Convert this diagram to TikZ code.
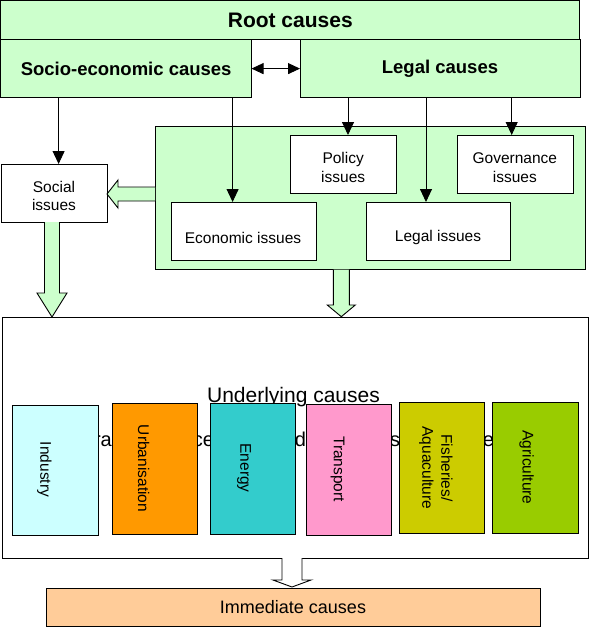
\documentclass[tikz,border=0pt]{standalone}
\usepackage{fontspec}
\setmainfont{Liberation Sans}
\usetikzlibrary{arrows.meta,calc}
\definecolor{lgreen}{HTML}{CCFFCC}
\definecolor{cind}{HTML}{CCFFFF}
\definecolor{curb}{HTML}{FF9900}
\definecolor{cene}{HTML}{33CCCC}
\definecolor{ctra}{HTML}{FF99CC}
\definecolor{cfis}{HTML}{CCCC00}
\definecolor{cagr}{HTML}{99CC00}
\definecolor{cimm}{HTML}{FFCC99}
\tikzset{
  bx/.style={draw=black, line width=0.9pt, inner sep=0pt, outer sep=0pt, anchor=north west},
  gbx/.style={bx, fill=lgreen},
  wbx/.style={bx, fill=white},
  boldlbl/.style={font=\fontsize{18.5}{22}\selectfont\bfseries, inner sep=0pt},
  lbl/.style={font=\fontsize{15.5}{18.5}\selectfont, align=center, inner sep=0pt},
  vlbl/.style={font=\fontsize{15.5}{19}\selectfont, align=center, inner sep=0pt, rotate=-90},
  frag/.style={font=\fontsize{20}{24}\selectfont, inner sep=0pt, anchor=base},
  arr/.style={line width=0.9pt, -{Triangle[length=13pt,width=12pt]}},
  darr/.style={line width=0.9pt, {Triangle[length=12pt,width=11pt]}-{Triangle[length=12pt,width=11pt]}},
  blockarr/.style={draw=black, line width=0.9pt, fill=lgreen, line join=miter},
}
\begin{document}
\begin{tikzpicture}[x=1pt,y=-1pt]
\useasboundingbox (0,0) rectangle (590,630);

% top boxes
\node[gbx, minimum width=579pt, minimum height=38.7pt] (root) at (0.8,0.8) {};
\node[boldlbl, font=\fontsize{21}{24}\selectfont\bfseries] (roott) at (root.center) {Root causes};
\node[gbx, minimum width=250.7pt, minimum height=58.2pt] (socio) at (0.8,39.5) {};
\node[boldlbl] (sociot) at (socio.center) {Socio-economic causes};
\node[gbx, minimum width=280pt, minimum height=58.2pt] (legal) at (300,39.5) {};
\node[boldlbl] (legalt) at (legal.center) {Legal causes};
\draw[darr] (socio.east) -- (legal.west);

% issues container
\node[gbx, minimum width=430pt, minimum height=143.5pt] (cont) at (155,126) {};
\node[wbx, minimum width=105.5pt, minimum height=58pt] (policy) at (290.5,135) {};
\node[lbl] (policyt) at (343.2,167.5) {Policy\\issues};
\node[wbx, minimum width=115.4pt, minimum height=58pt] (gov) at (457.6,135) {};
\node[lbl] (govt) at (514.8,167.5) {Governance\\issues};
\node[wbx, minimum width=145pt, minimum height=58pt] (econ) at (171,202) {};
\node[lbl] (econt) at (243,237.5) {Economic issues};
\node[wbx, minimum width=144.6pt, minimum height=58pt] (legi) at (366,202) {};
\node[lbl] (legit) at (438,237.5) {Legal issues};

% social issues
\node[wbx, minimum width=106pt, minimum height=58pt] (social) at (1,164) {};
\node[lbl] (socialt) at (54,196) {Social\\issues};

% thin connectors
\coordinate (c1) at (58.6,0);
\coordinate (c2) at (232.6,0);
\coordinate (c3) at (348,0);
\coordinate (c4) at (426,0);
\coordinate (c5) at (511.7,0);
\draw[arr] (socio.south -| c1) -- (social.north -| c1);
\draw[arr] (socio.south -| c2) -- (econ.north -| c2);
\draw[arr] (legal.south -| c3) -- (policy.north -| c3);
\draw[arr] (legal.south -| c4) -- (legi.north -| c4);
\draw[arr] (legal.south -| c5) -- (gov.north -| c5);

% underlying causes box
\node[wbx, minimum width=586pt, minimum height=241pt] (big) at (2,317) {};
\node[font=\fontsize{21}{24}\selectfont, inner sep=0pt, anchor=base] (undt) at (293.5,402) {Underlying causes};
\node[frag, anchor=base east] (f1) at (112,446.5) {ora};
\node[frag] (f2) at (203.5,446.5) {ce};
\node[frag] (f3) at (300.5,446.5) {d};
\node[frag] (f4) at (395,446.5) {s};
\node[frag] (f5) at (488.5,446.5) {e};

% sectors
\node[bx, fill=cind, minimum width=85.5pt, minimum height=129.3pt] (ind) at (12.5,405.7) {};
\node[vlbl] (indt) at (44.5,469.5) {Industry};
\node[bx, fill=curb, minimum width=85.1pt, minimum height=131pt] (urb) at (112.3,403.3) {};
\node[vlbl] (urbt) at (143.7,468.5) {Urbanisation};
\node[bx, fill=cene, minimum width=85.5pt, minimum height=130.6pt] (ene) at (210.3,403.7) {};
\node[vlbl] (enet) at (244,468) {Energy};
\node[bx, fill=ctra, minimum width=85pt, minimum height=131pt] (tra) at (306.4,404.3) {};
\node[vlbl] (trat) at (337.6,469) {Transport};
\node[bx, fill=cfis, minimum width=85.1pt, minimum height=131pt] (fis) at (399.8,402.3) {};
\node[vlbl] (fist) at (436,468) {Fisheries/\\Aquaculture};
\node[bx, fill=cagr, minimum width=85.5pt, minimum height=131pt] (agr) at (492.8,402.3) {};
\node[vlbl] (agrt) at (526.6,467.5) {Agriculture};

% immediate causes
\node[bx, fill=cimm, minimum width=494pt, minimum height=38pt] (imm) at (46,588) {};
\node[font=\fontsize{18}{22}\selectfont, inner sep=0pt] (immt) at (imm.center) {Immediate causes};

% block arrows
\draw[blockarr] (social.south -| 44.5,0) -- (44.5,293) -- (37,293) -- (52,317) -- (67,293) -- (59.5,293) -- (social.south -| 59.5,0);
\draw[blockarr] (cont.south -| 333.3,0) -- (333.3,305) -- (327.3,305) -- (341.3,316.7) -- (355.3,305) -- (349.3,305) -- (cont.south -| 349.3,0);
\draw[blockarr] (cont.west |- 0,187) -- (118,187) -- (118,180) -- (107,194) -- (118,208) -- (118,201) -- (cont.west |- 0,201);
\draw[blockarr, fill=white] (big.south -| 282,0) -- (282,580) -- (273,580) -- (292,587) -- (311,580) -- (302,580) -- (big.south -| 302,0);
\end{tikzpicture}
\end{document}
